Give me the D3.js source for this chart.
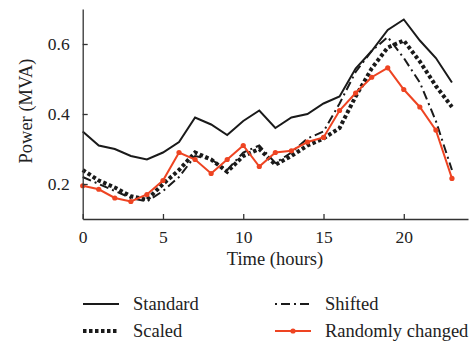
<!DOCTYPE html>
<html>
<head>
<meta charset="UTF-8">
<script src="https://d3js.org/d3.v7.min.js"></script>
<style>
  body { margin: 0; background: #fff; }
  text { font-family: "Liberation Serif", "DejaVu Serif", serif; fill: #222; }
</style>
</head>
<body>
<svg id="chart" width="475" height="342"></svg>
<script>
// hours 0..23
var hours = d3.range(0, 24);
var standard = [0.35, 0.31, 0.30, 0.28, 0.27, 0.29, 0.32, 0.39, 0.37, 0.34, 0.38, 0.41, 0.36, 0.39, 0.40, 0.43, 0.45, 0.53, 0.58, 0.64, 0.67, 0.61, 0.56, 0.49];
var scaled   = [0.24, 0.21, 0.19, 0.165, 0.155, 0.20, 0.24, 0.29, 0.27, 0.235, 0.28, 0.30, 0.255, 0.28, 0.31, 0.33, 0.36, 0.45, 0.53, 0.59, 0.61, 0.55, 0.48, 0.42];
var shifted  = [0.22, 0.20, 0.18, 0.16, 0.15, 0.18, 0.22, 0.28, 0.27, 0.24, 0.29, 0.31, 0.26, 0.29, 0.33, 0.35, 0.43, 0.52, 0.58, 0.62, 0.56, 0.49, 0.38, 0.24];
var randomly = [0.195, 0.185, 0.16, 0.15, 0.17, 0.21, 0.29, 0.27, 0.23, 0.27, 0.31, 0.25, 0.29, 0.295, 0.32, 0.333, 0.41, 0.46, 0.505, 0.532, 0.47, 0.42, 0.354, 0.216];
var xTicks = [0, 5, 10, 15, 20];
var yTicks = [0.2, 0.4, 0.6];
var seriesNames = ["Standard", "Scaled", "Shifted", "Randomly changed"];

var svg = d3.select("#chart");

var x = d3.scaleLinear().domain([0, 24]).range([82.7, 468]);
var y = d3.scaleLinear().domain([0.1, 0.7]).range([219, 9]);

// styles for each series
var styles = [
  { data: standard, color: "#1a1a1a", width: 2, dash: null },
  { data: scaled,   color: "#1a1a1a", width: 4, dash: "3.5,2.5" },
  { data: shifted,  color: "#1a1a1a", width: 2, dash: "9,4,2,4" },
  { data: randomly, color: "#ee4422", width: 2, dash: null, dots: true }
];

var line = d3.line()
  .x(function(d, i) { return x(hours[i]); })
  .y(function(d) { return y(d); });

// draw order: shifted, scaled, standard, random
[2, 1, 0, 3].forEach(function(k) {
  var s = styles[k];
  svg.append("path")
    .datum(s.data)
    .attr("d", line)
    .attr("fill", "none")
    .attr("stroke", s.color)
    .attr("stroke-width", s.width)
    .attr("stroke-dasharray", s.dash)
    .attr("stroke-linejoin", "miter");
  if (s.dots) {
    svg.selectAll(null)
      .data(s.data)
      .enter()
      .append("circle")
      .attr("cx", function(d, i) { return x(hours[i]); })
      .attr("cy", function(d) { return y(d); })
      .attr("r", 2.6)
      .attr("fill", s.color);
  }
});

// axes
var xAxis = d3.axisBottom(x).tickValues(xTicks).tickSizeInner(-5).tickSizeOuter(0).tickPadding(12);
var yAxis = d3.axisLeft(y).tickValues(yTicks).tickSizeInner(-5).tickSizeOuter(0).tickPadding(13)
  .tickFormat(d3.format(".1f"));

var gx = svg.append("g").attr("transform", "translate(0,219)").call(xAxis);
var gy = svg.append("g").attr("transform", "translate(82.7,0)").call(yAxis);
[gx, gy].forEach(function(g) {
  g.select(".domain").attr("stroke", "#333").attr("stroke-width", 1.3);
  g.selectAll(".tick line").attr("stroke", "#333").attr("stroke-width", 1.3);
  g.selectAll(".tick text").attr("font-size", 17.5).attr("fill", "#333")
    .attr("font-family", "Liberation Serif, serif");
});

svg.append("text")
  .attr("x", 275)
  .attr("y", 265)
  .attr("text-anchor", "middle")
  .attr("font-size", 18.5)
  .text("Time (hours)");

svg.append("text")
  .attr("transform", "translate(32,111) rotate(-90)")
  .attr("text-anchor", "middle")
  .attr("font-size", 18.5)
  .text("Power (MVA)");

// legend
var legendPos = [[83, 304], [83, 331], [275, 304], [275, 331]];
[0, 1, 2, 3].forEach(function(k) {
  var s = styles[k];
  var p = legendPos[k];
  svg.append("line")
    .attr("x1", p[0]).attr("x2", p[0] + 36)
    .attr("y1", p[1]).attr("y2", p[1])
    .attr("stroke", s.color)
    .attr("stroke-width", s.width)
    .attr("stroke-dasharray", k === 2 ? "2,4,9,4" : s.dash);
  if (s.dots) {
    svg.append("circle").attr("cx", p[0] + 18).attr("cy", p[1]).attr("r", 2.6).attr("fill", s.color);
  }
  svg.append("text")
    .attr("x", p[0] + 50)
    .attr("y", p[1] + 6)
    .attr("font-size", 18.5)
    .text(seriesNames[k]);
});
</script>
</body>
</html>
